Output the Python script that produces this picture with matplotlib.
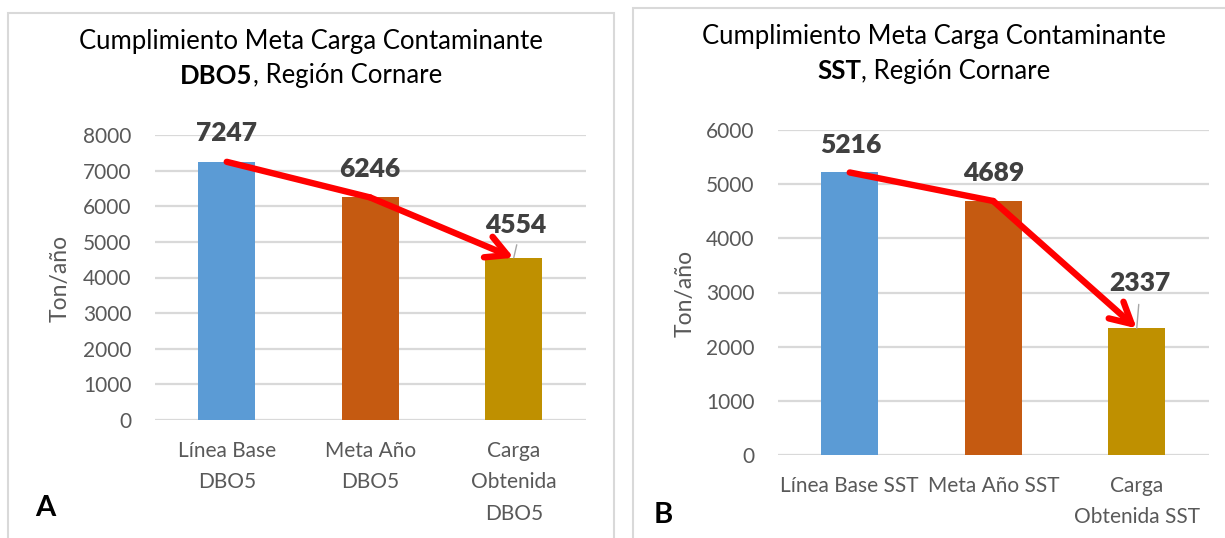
import matplotlib.pyplot as plt
from matplotlib.patches import Rectangle

# data
cats_dbo = ['Línea Base\nDBO5', 'Meta Año\nDBO5', 'Carga\nObtenida\nDBO5']
vals_dbo = [7247, 6246, 4554]
cats_sst = ['Línea Base SST', 'Meta Año SST', 'Carga\nObtenida SST']
vals_sst = [5216, 4689, 2337]
bar_colors = ['#5B9BD5', '#C55A11', '#BF9000']

W, H = 1225, 538
plt.rcParams['font.family'] = ['Lato', 'DejaVu Sans']

fig = plt.figure(figsize=(W / 100, H / 100), dpi=100)
renderer = fig.canvas.get_renderer()


def fx(x):
    return x / W


def fy(y):
    return 1 - y / H


def mixed_line(cx, y, bold_part, rest, size):
    # bold word followed by regular text, centred as one line
    t1 = fig.text(0, fy(y), bold_part, fontsize=size, fontweight='bold',
                  va='center', ha='left')
    t2 = fig.text(0, fy(y), rest, fontsize=size, va='center', ha='left')
    w1 = t1.get_window_extent(renderer).width
    w2 = t2.get_window_extent(renderer).width
    start = cx - (w1 + w2) / 2
    t1.set_x(fx(start))
    t2.set_x(fx(start + w1))


def panel(left, top, right, bottom, ax_box, cats, vals, ymax, title_bold,
          letter, letter_xy, ylabel_xy, label_offsets, leaders):
    # light grey frame around the chart
    fig.patches.append(Rectangle((fx(left), fy(bottom)), fx(right - left),
                                 (bottom - top) / H, transform=fig.transFigure,
                                 fill=False, edgecolor='#D9D9D9', lw=1.5))
    cx = (left + right) / 2
    fig.text(fx(cx), fy(top + 29), 'Cumplimiento Meta Carga Contaminante',
             ha='center', va='center', fontsize=18.5, color='black')
    mixed_line(cx, top + 63, title_bold, ', Región Cornare', 18.5)

    x0, y0, w, h = ax_box
    ax = fig.add_axes([fx(x0), fy(y0 + h), w / W, h / H])
    xs = range(len(vals))
    ax.bar(xs, vals, width=0.4, color=bar_colors, zorder=2)
    ax.set_xlim(-0.5, len(vals) - 0.5)
    ax.set_ylim(0, ymax)
    ax.set_yticks(range(0, ymax + 1, 1000))
    ax.yaxis.grid(True, color='#D9D9D9', lw=1.6, zorder=0)
    ax.set_axisbelow(True)
    for s in ax.spines.values():
        s.set_visible(False)
    ax.tick_params(length=0, colors='#595959', labelsize=15)
    ax.tick_params(axis='y', pad=17)
    ax.tick_params(axis='x', pad=15)
    ax.set_xticks(list(xs))
    ax.set_xticklabels(cats, linespacing=1.72)

    fig.text(fx(ylabel_xy[0]), fy(ylabel_xy[1]), 'Ton/año', rotation=90,
             ha='center', va='center', fontsize=16.5, color='#595959')
    fig.text(fx(letter_xy[0]), fy(letter_xy[1]), letter, ha='center',
             va='center', fontsize=21, fontweight='bold', color='black')

    # trend arrow joining the tops of the bars
    ax.plot([0, 1], vals[:2], color='#FF0000', lw=4.6, solid_capstyle='round',
            zorder=4, clip_on=False)
    ax.annotate('', xy=(2, vals[2]), xytext=(1, vals[1]),
                arrowprops=dict(arrowstyle='->,head_length=1.5,head_width=0.8',
                                color='#FF0000', lw=4.6, shrinkA=0, shrinkB=0,
                                capstyle='round', joinstyle='round'),
                zorder=4, annotation_clip=False)

    for i, v in enumerate(vals):
        dx, dy = label_offsets[i]
        ax.annotate(str(v), xy=(i, v), xytext=(dx, dy),
                    textcoords='offset pixels', ha='center', va='center',
                    fontsize=19, fontweight='heavy', color='#404040', zorder=5,
                    annotation_clip=False)
        if leaders[i]:
            lx, ly = leaders[i]
            ax.annotate('', xy=(i, v), xytext=(lx, ly),
                        textcoords='offset pixels',
                        arrowprops=dict(arrowstyle='-', color='#A6A6A6',
                                        lw=1.0, shrinkA=0, shrinkB=0),
                        zorder=5)
    return ax


panel(8, 13, 614, 545, (155, 135, 430.5, 285), cats_dbo, vals_dbo, 8000,
      'DBO5', 'A', (45, 508), (60, 278),
      [(0, 29), (0, 28), (2, 33)], [None, None, (3, 13)])
panel(633, 8, 1235, 545, (778, 130, 430.5, 325), cats_sst, vals_sst, 6000,
      'SST', 'B', (663, 515), (685, 293),
      [(1, 27), (0, 28), (3, 45)], [None, None, (2, 24)])

fig.savefig('out.png', dpi=100, facecolor='white')
